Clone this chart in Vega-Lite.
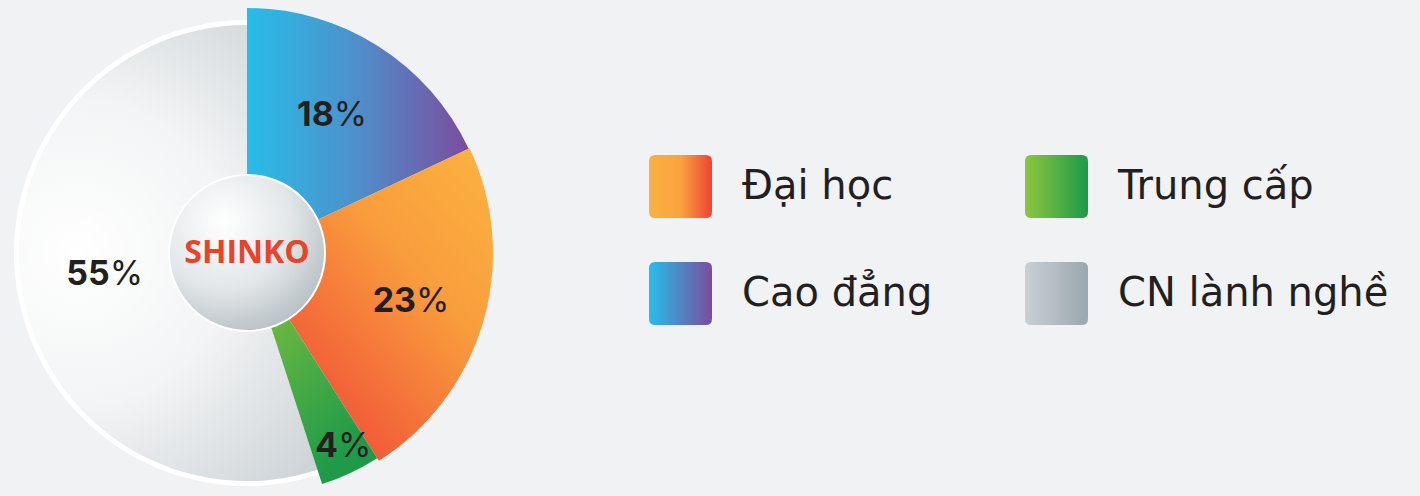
{
  "$schema": "https://vega.github.io/schema/vega-lite/v6.json",
  "width": 494,
  "height": 486,
  "padding": {"top": 10, "left": 0, "right": 926, "bottom": 0},
  "autosize": {"type": "none"},
  "background": "#f1f2f4",
  "config": {"view": {"stroke": null}},
  "data": {"values": [
    {"cat": "Cao đẳng", "value": 18, "order": 1},
    {"cat": "Đại học", "value": 23, "order": 2},
    {"cat": "Trung cấp", "value": 4, "order": 3},
    {"cat": "CN lành nghề", "value": 55, "order": 4}
  ]},
  "transform": [
    {"stack": "value", "groupby": [], "sort": [{"field": "order", "order": "ascending"}], "as": ["v0", "v1"]},
    {"calculate": "(datum.v0 + datum.v1) / 2", "as": "mid"}
  ],
  "encoding": {
    "theta": {"field": "v0", "type": "quantitative", "scale": {"domain": [0, 100], "range": [0, 6.2832]}},
    "theta2": {"field": "v1"}
  },
  "layer": [
    {
      "mark": {"type": "arc", "radius": 40},
      "encoding": {
        "stroke": {
          "field": "cat", "type": "nominal",
          "scale": {"domain": ["Đại học", "Cao đẳng", "Trung cấp", "CN lành nghề"], "range": ["#f7923a", "#5a84c6", "#5cb847", "#b3bec3"]},
          "legend": {
            "orient": "none", "legendX": 649, "legendY": 145, "columns": 2, "title": null,
            "symbolType": "M -0.8,-1 L 0.8,-1 Q 1,-1 1,-0.8 L 1,0.8 Q 1,1 0.8,1 L -0.8,1 Q -1,1 -1,0.8 L -1,-0.8 Q -1,-1 -0.8,-1 Z",
            "symbolSize": 3969, "symbolStrokeWidth": 0, "symbolOpacity": 1,
            "labelFont": "DejaVu Sans", "labelFontSize": 40, "labelColor": "#231f20", "labelOffset": 30, "labelLimit": 500,
            "columnPadding": 92, "rowPadding": 44, "padding": 0,
            "encoding": {"symbols": {"fill": {
              "condition": [
                {"test": "datum.value === 'Đại học'", "value": {"gradient": "linear", "x1": 0, "y1": 0, "x2": 1, "y2": 0, "stops": [{"offset": 0, "color": "#fbb040"}, {"offset": 0.5, "color": "#f9a43e"}, {"offset": 1, "color": "#ef4136"}]}},
                {"test": "datum.value === 'Trung cấp'", "value": {"gradient": "linear", "x1": 0, "y1": 0, "x2": 1, "y2": 0, "stops": [{"offset": 0, "color": "#8dc63f"}, {"offset": 1, "color": "#1e9a48"}]}},
                {"test": "datum.value === 'Cao đẳng'", "value": {"gradient": "linear", "x1": 0, "y1": 0, "x2": 1, "y2": 0, "stops": [{"offset": 0, "color": "#27bde9"}, {"offset": 1, "color": "#7b4c9f"}]}}
              ],
              "value": {"gradient": "linear", "x1": 0, "y1": 0, "x2": 1, "y2": 0, "stops": [{"offset": 0, "color": "#c9d0d4"}, {"offset": 1, "color": "#9aa7ae"}]}
            }, "strokeWidth": {"value": 0}}}
          }
        }
      }
    },
    {
      "transform": [{"filter": "datum.cat === 'CN lành nghề'"}],
      "mark": {"type": "arc", "radius": 233, "fill": "#ffffff"}
    },
    {
      "transform": [{"filter": "datum.cat === 'CN lành nghề'"}],
      "mark": {"type": "arc", "radius": 228, "fill": {"gradient": "radial", "x1": 0.3, "y1": 0.5, "r1": 0, "x2": 0.3, "y2": 0.5, "r2": 0.75, "stops": [{"offset": 0, "color": "#ffffff"}, {"offset": 0.45, "color": "#f3f4f5"}, {"offset": 1, "color": "#c8cfd3"}]}}
    },
    {
      "transform": [{"filter": "datum.cat === 'Cao đẳng'"}],
      "mark": {"type": "arc", "radius": 245, "fill": {"gradient": "linear", "x1": 0, "y1": 0, "x2": 1, "y2": 0, "stops": [{"offset": 0, "color": "#27bde9"}, {"offset": 0.5, "color": "#4f8fca"}, {"offset": 1, "color": "#7b4c9f"}]}}
    },
    {
      "transform": [{"filter": "datum.cat === 'Đại học'"}],
      "mark": {"type": "arc", "radius": 246, "fill": {"gradient": "linear", "x1": 1, "y1": 0.1, "x2": 0.2, "y2": 1, "stops": [{"offset": 0, "color": "#fbb040"}, {"offset": 0.35, "color": "#f99d3d"}, {"offset": 1, "color": "#ef4136"}]}}
    },
    {
      "transform": [{"filter": "datum.cat === 'Trung cấp'"}],
      "mark": {"type": "arc", "radius": 243, "fill": {"gradient": "linear", "x1": 0, "y1": 0, "x2": 0.5, "y2": 1, "stops": [{"offset": 0, "color": "#8dc63f"}, {"offset": 1, "color": "#1e9a48"}]}}
    },
    {
      "transform": [{"filter": "datum.order === 1"}],
      "mark": {"type": "arc", "radius": 78, "stroke": "#ffffff", "strokeWidth": 2, "fill": {"gradient": "radial", "x1": 0.35, "y1": 0.3, "r1": 0, "x2": 0.35, "y2": 0.3, "r2": 0.85, "stops": [{"offset": 0, "color": "#ffffff"}, {"offset": 0.5, "color": "#e3e7e9"}, {"offset": 1, "color": "#aab4ba"}]}},
      "encoding": {"theta": {"value": 0}, "theta2": {"value": 6.2832}}
    },
    {
      "transform": [{"filter": "datum.order === 1"}],
      "mark": {"type": "text", "text": "SHINKO", "font": "Open Sans", "fontWeight": 700, "fontSize": 32, "fill": "#e8442a", "align": "center", "baseline": "middle"},
      "encoding": {"theta": null, "theta2": null}
    },
    {
      "transform": [{"filter": "datum.cat === 'Cao đẳng'"}],
      "mark": {"type": "text", "radius": 162, "align": "right", "baseline": "middle", "font": "Inter", "fontWeight": 700, "fontSize": 34, "fill": "#231f20"},
      "encoding": {"theta": {"field": "mid", "type": "quantitative"}, "theta2": null, "text": {"field": "value"}}
    },
    {
      "transform": [{"filter": "datum.cat === 'Cao đẳng'"}],
      "mark": {"type": "text", "radius": 162, "align": "left", "baseline": "middle", "font": "Inter", "fontWeight": 400, "fontSize": 34, "fill": "#231f20", "text": "%"},
      "encoding": {"theta": {"field": "mid", "type": "quantitative"}, "theta2": null}
    },
    {
      "transform": [{"filter": "datum.cat === 'Đại học'"}],
      "mark": {"type": "text", "radius": 176, "align": "right", "baseline": "middle", "font": "Inter", "fontWeight": 700, "fontSize": 34, "fill": "#231f20"},
      "encoding": {"theta": {"field": "mid", "type": "quantitative"}, "theta2": null, "text": {"field": "value"}}
    },
    {
      "transform": [{"filter": "datum.cat === 'Đại học'"}],
      "mark": {"type": "text", "radius": 176, "align": "left", "baseline": "middle", "font": "Inter", "fontWeight": 400, "fontSize": 34, "fill": "#231f20", "text": "%"},
      "encoding": {"theta": {"field": "mid", "type": "quantitative"}, "theta2": null}
    },
    {
      "transform": [{"filter": "datum.cat === 'Trung cấp'"}],
      "mark": {"type": "text", "radius": 214, "align": "right", "baseline": "middle", "font": "Inter", "fontWeight": 700, "fontSize": 34, "fill": "#231f20"},
      "encoding": {"theta": {"field": "mid", "type": "quantitative"}, "theta2": null, "text": {"field": "value"}}
    },
    {
      "transform": [{"filter": "datum.cat === 'Trung cấp'"}],
      "mark": {"type": "text", "radius": 214, "align": "left", "baseline": "middle", "font": "Inter", "fontWeight": 400, "fontSize": 34, "fill": "#231f20", "text": "%"},
      "encoding": {"theta": {"field": "mid", "type": "quantitative"}, "theta2": null}
    },
    {
      "transform": [{"filter": "datum.cat === 'CN lành nghề'"}],
      "mark": {"type": "text", "radius": 139, "align": "right", "baseline": "middle", "font": "Inter", "fontWeight": 700, "fontSize": 34, "fill": "#231f20"},
      "encoding": {"theta": {"field": "mid", "type": "quantitative"}, "theta2": null, "text": {"field": "value"}}
    },
    {
      "transform": [{"filter": "datum.cat === 'CN lành nghề'"}],
      "mark": {"type": "text", "radius": 139, "align": "left", "baseline": "middle", "font": "Inter", "fontWeight": 400, "fontSize": 34, "fill": "#231f20", "text": "%"},
      "encoding": {"theta": {"field": "mid", "type": "quantitative"}, "theta2": null}
    }
  ]
}
